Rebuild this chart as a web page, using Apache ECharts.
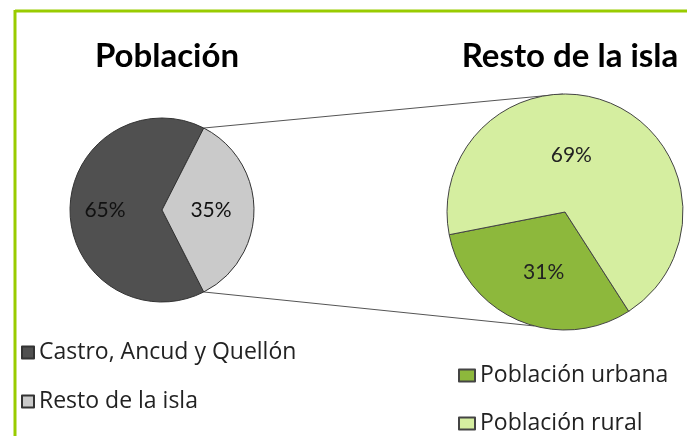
<!DOCTYPE html>
<html>
<head>
<meta charset="utf-8">
<script src="https://cdn.jsdelivr.net/npm/echarts@6/dist/echarts.min.js"></script>
<style>
  html, body { margin: 0; padding: 0; background: #fff; }
  #chart { width: 687px; height: 436px; }
</style>
</head>
<body>
<div id="chart"></div>
<script>
// datos
var mainNames = ['Castro, Ancud y Quellón', 'Resto de la isla'];
var mainValues = [65, 35];
var restNames = ['Población urbana', 'Población rural'];
var restValues = [31, 69];

var chart = echarts.init(document.getElementById('chart'));
var font = 'Lato, "Open Sans", sans-serif';
var legendFont = '"Open Sans", Lato, sans-serif';

// geometria de los dos pies
var c1 = [162, 210], r1 = 92;
var c2 = [565, 212], r2 = 118;
var total1 = mainValues[0] + mainValues[1];
var restAngle = 360 * mainValues[1] / total1;
var start1 = 360 - restAngle / 2;           // porcion "resto" centrada a la derecha
var start2 = 302.7;

function pt(c, r, deg) {
    var a = deg * Math.PI / 180;
    return [c[0] + r * Math.cos(a), c[1] - r * Math.sin(a)];
}
var p1a = pt(c1, r1, restAngle / 2);
var p1b = pt(c1, r1, -restAngle / 2);
var p2a = pt(c2, r2, 91);
var p2b = pt(c2, r2, 255);

var option = {
    backgroundColor: '#fff',
    title: [{
        text: 'Población',
        left: c1[0], top: 35, textAlign: 'center',
        textStyle: { fontFamily: font, fontSize: 33, fontWeight: 'bold', color: '#000' }
    }, {
        text: 'Resto de la isla',
        left: c2[0], top: 35, textAlign: 'center',
        textStyle: { fontFamily: font, fontSize: 33, fontWeight: 'bold', color: '#000' }
    }],
    legend: [{
        data: mainNames,
        orient: 'vertical',
        left: 21, top: 341, padding: 0,
        icon: 'rect', itemWidth: 12, itemHeight: 12, itemGap: 26,
        textStyle: { fontFamily: legendFont, fontSize: 23, color: '#222' }
    }, {
        data: restNames,
        orient: 'vertical',
        left: 458, top: 364, padding: 0,
        icon: 'rect', itemWidth: 16, itemHeight: 12, itemGap: 25,
        textStyle: { fontFamily: legendFont, fontSize: 23, color: '#222' }
    }],
    graphic: [
        { type: 'line', shape: { x1: 15, y1: 11, x2: 687, y2: 11 }, style: { stroke: '#99cc00', lineWidth: 3 } },
        { type: 'line', shape: { x1: 15, y1: 10, x2: 15, y2: 436 }, style: { stroke: '#99cc00', lineWidth: 3 } },
        { type: 'line', shape: { x1: p1a[0], y1: p1a[1], x2: p2a[0], y2: p2a[1] }, style: { stroke: '#555', lineWidth: 1 } },
        { type: 'line', shape: { x1: p1b[0], y1: p1b[1], x2: p2b[0], y2: p2b[1] }, style: { stroke: '#555', lineWidth: 1 } }
    ],
    series: [{
        type: 'pie',
        center: c1, radius: r1,
        startAngle: start1,
        clockwise: true,
        animation: false,
        label: {
            position: 'inner', formatter: '{d}%',
            fontFamily: font, fontSize: 21, color: '#111'
        },
        labelLayout: function (p) {
            return p.dataIndex === 0 ? { dx: -8 } : {};
        },
        itemStyle: { borderColor: '#333', borderWidth: 1 },
        data: mainNames.map(function (n, i) {
            return { name: n, value: mainValues[i], itemStyle: { color: ['#505050', '#cacaca'][i] } };
        })
    }, {
        type: 'pie',
        center: c2, radius: r2,
        startAngle: start2,
        clockwise: true,
        animation: false,
        label: {
            position: 'inner', formatter: '{d}%',
            fontFamily: font, fontSize: 21, color: '#222'
        },
        labelLayout: function (p) {
            return p.dataIndex === 1 ? { dx: -18 } : { dx: 3, dy: 3 };
        },
        itemStyle: { borderColor: '#444', borderWidth: 1 },
        data: restNames.map(function (n, i) {
            return { name: n, value: restValues[i], itemStyle: { color: ['#8db83c', '#d5eea0'][i] } };
        })
    }]
};

chart.setOption(option);
</script>
</body>
</html>
